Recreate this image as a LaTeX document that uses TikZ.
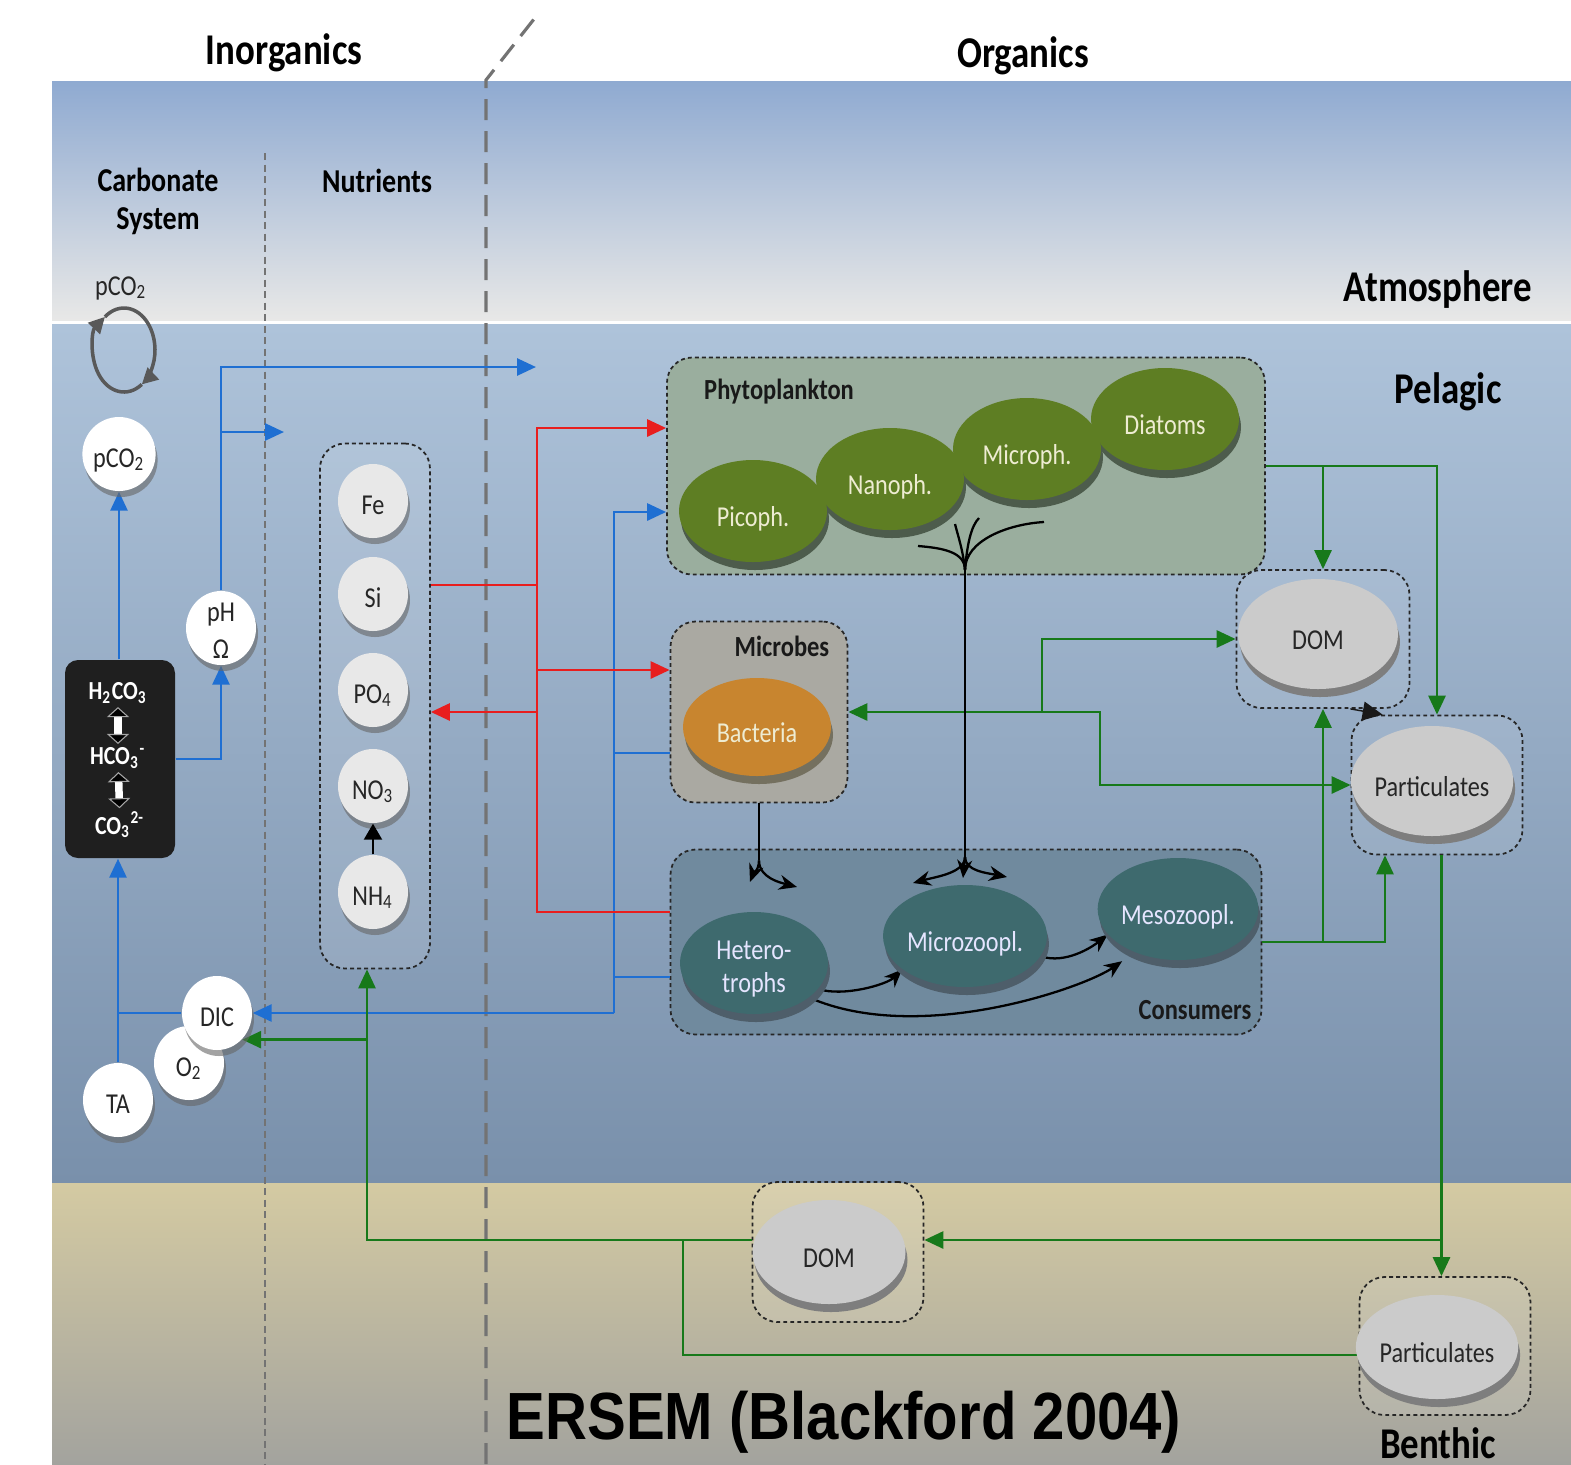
\documentclass[tikz,border=0pt]{standalone}
\usepackage{fontspec}
\setmainfont{Carlito}[FakeStretch=0.84]
\newfontfamily\titlefont{Liberation Sans}[FakeStretch=0.87]
\usetikzlibrary{arrows.meta,shapes.geometric,shadows}

\pgfdeclarelayer{back}
\pgfdeclarelayer{links}
\pgfsetlayers{back,links,main}

\definecolor{airtop}{HTML}{8FAAD1}
\definecolor{airbot}{HTML}{E8E8E7}
\definecolor{seatop}{HTML}{AEC3DA}
\definecolor{seabot}{HTML}{7990AB}
\definecolor{sedtop}{HTML}{D4CAA2}
\definecolor{sedbot}{HTML}{A3A39E}
\definecolor{flowblue}{HTML}{1F6FD2}
\definecolor{flowred}{HTML}{E81E1E}
\definecolor{flowgreen}{HTML}{17791A}
\definecolor{phygrp}{HTML}{9AAE9E}
\definecolor{phyfill}{HTML}{5E7E23}
\definecolor{physhd}{HTML}{4D5C4C}
\definecolor{phytxt}{HTML}{EEECD2}
\definecolor{micgrp}{HTML}{AAA9A2}
\definecolor{bacfill}{HTML}{C8852F}
\definecolor{bacshd}{HTML}{74705F}
\definecolor{congrp}{HTML}{708A9E}
\definecolor{confill}{HTML}{3E6A6E}
\definecolor{conshd}{HTML}{4E5E6A}
\definecolor{detfill}{HTML}{CBCBCB}
\definecolor{detshd}{HTML}{7E7E7E}

\newcommand{\nodesz}{\fontsize{8.2}{9.5}\selectfont}
\newcommand{\grpsz}{\fontsize{8.3}{10}\selectfont\bfseries}
\newcommand{\hdsz}{\fontsize{12.5}{15}\selectfont\bfseries}
\newcommand{\colsz}{\fontsize{9.5}{10.8}\selectfont\bfseries}

\tikzset{
  flow/.style={line width=0.8pt},
  flowtip/.style={-{Triangle[length=1.9mm,width=1.7mm]}},
  bluearr/.style={flow, flowblue, flowtip},
  blueln/.style={flow, flowblue},
  redarr/.style={flow, flowred, flowtip},
  redln/.style={flow, flowred},
  grnarr/.style={flow, flowgreen, flowtip},
  grnln/.style={flow, flowgreen},
  feed/.style={line width=0.65pt, -{Stealth[length=1.8mm,width=1.5mm]}},
  graze/.style={line width=0.65pt},
  group/.style={draw=black!85, line width=0.5pt, dash pattern=on 1.1pt off 0.9pt,
    rounded corners=2.5mm, inner sep=0pt},
  grplbl/.style={font=\grpsz, text=black!90},
  pool/.style={ellipse, minimum width=7mm, minimum height=7.4mm, inner sep=0pt,
    fill=white, text=black!85, font=\nodesz, text height=3.1mm, text depth=0.5mm,
    drop shadow={shadow xshift=0.2mm, shadow yshift=-0.6mm, fill=black!60, opacity=.6}},
  nut/.style={pool, fill=black!9},
  blob/.style 2 args={ellipse, fill=#1, minimum width=14.8mm, minimum height=10.2mm,
    inner sep=0pt, font=\nodesz, text height=3.6mm, text depth=0.5mm,
    drop shadow={shadow xshift=0.2mm, shadow yshift=-0.8mm, fill=#2, opacity=1}},
  carbtxt/.style={text=white, inner sep=0pt, font=\fontsize{7.4}{8}\selectfont\bfseries},
  equil/.style={line width=0.75mm, white,
    {Triangle[length=1mm,width=2.2mm,fill=black,color=black!35,line width=0.3pt]}-{Triangle[length=1mm,width=2.2mm,fill=black,color=black!35,line width=0.3pt]},
    shorten <=0.3mm, shorten >=0.3mm},
}

\begin{document}
\begin{tikzpicture}[x=0.1mm,y=-0.1mm]
\useasboundingbox (0,0) rectangle (1571,1464);

\begin{pgfonlayer}{back}
% air, water column, sediment
\fill[white] (0,0) rectangle (1571,1464);
\shade[top color=airtop, bottom color=airbot] (52,81) rectangle (1571,320);
\shade[top color=seatop, bottom color=seabot] (52,324) rectangle (1571,1183);
\shade[top color=sedtop, bottom color=sedbot] (52,1183) rectangle (1571,1464);
% column dividers
\draw[black!55, line width=0.5pt, dash pattern=on 0.7mm off 0.45mm] (265,153) -- (265,1464);
\draw[black!55, line width=0.9pt, dash pattern=on 2.1mm off 1.1mm] (486,1464) -- (486,80) -- (538,14);
% functional groups
\node[group, fill=white, fill opacity=.12, minimum width=11mm, minimum height=52.5mm] (nutbox) at (375,706) {};
\node[group, fill=phygrp, minimum width=59.8mm, minimum height=21.7mm] (phyto) at (966,466) {};
\node[group, fill=micgrp, minimum width=17.7mm, minimum height=18.1mm] (microbes) at (759,712) {};
\node[group, fill=congrp, minimum width=59.1mm, minimum height=18.5mm] (consumers) at (966,942) {};
\node[group, fill=white, fill opacity=.1, minimum width=17.3mm, minimum height=13.8mm] (domgrp) at (1323,639) {};
\node[group, fill=white, fill opacity=.1, minimum width=17.1mm, minimum height=13.9mm] (partgrp) at (1437,785) {};
\node[group, fill=white, fill opacity=.12, minimum width=17.1mm, minimum height=14mm] (bdomgrp) at (838,1252) {};
\node[group, fill=white, fill opacity=.12, minimum width=17.1mm, minimum height=13.8mm] (bpartgrp) at (1445,1346) {};
\end{pgfonlayer}

% headings
\node[font=\hdsz] (inorg) at (284,53) {Inorganics};
\node[font=\hdsz] (org) at (1023,56) {Organics};
\node[font=\hdsz] (atm) at (1438,290) {Atmosphere};
\node[font=\hdsz] (pel) at (1448,392) {Pelagic};
\node[font=\hdsz] (ben) at (1438,1443) {Benthic};
\node[font=\colsz, align=center] (carbhd) at (158,201) {Carbonate\\System};
\node[font=\colsz] (nuthd) at (377,181) {Nutrients};
\node[font=\titlefont\bfseries\fontsize{19}{22}\selectfont] (title) at (844,1422) {ERSEM (Blackford 2004)};

% air-sea exchange
\node[font=\nodesz, text=black!85] (pco2air) at (121,288) {pCO\textsubscript{2}};
\coordinate (cyc) at (124,350);
\draw[black!65, line width=1pt, -{Triangle[length=1.6mm,width=1.6mm]}]
  (cyc) ++(305:3.1mm and 4.2mm) arc[start angle=305, end angle=128, x radius=3.1mm, y radius=4.2mm];
\draw[black!65, line width=1pt, -{Triangle[length=1.6mm,width=1.6mm]}]
  (cyc) ++(128:3.1mm and 4.2mm) arc[start angle=128, end angle=-55, x radius=3.1mm, y radius=4.2mm];

% carbonate system
\node[pool] (pco2) at (119,454) {pCO\textsubscript{2}};
\node[pool] (phom) at (221,628) {};
\node[font=\nodesz, text=black!85, align=center, inner sep=0pt] (phomtxt) at ([yshift=-0.3mm]phom) {pH\\[1pt]Ω};
\node[pool] (otwo) at (189,1063) {O\textsubscript{2}};
\node[pool] (dic) at (217,1013) {DIC};
\node[pool] (ta) at (118,1100) {TA};
\node[rounded corners=1.3mm, fill=black!88, minimum width=11mm, minimum height=19.8mm, inner sep=0pt] (carb) at (120,759) {};
\node[carbtxt] (h2co3) at (118,693) {H\textsubscript{2}CO\textsubscript{3}};
\node[carbtxt] (hco3) at (118,758) {HCO\textsubscript{3}\textsuperscript{-}};
\node[carbtxt] (co3) at (120,825) {CO\textsubscript{3}\textsuperscript{2-}};
\draw[equil] (h2co3) -- (hco3);
\draw[equil] (hco3) -- (co3);

% nutrients
\node[nut] (fe) at (373,501) {Fe};
\node[nut] (si) at (373,594) {Si};
\node[nut] (po4) at (373,690) {PO\textsubscript{4}};
\node[nut] (no3) at (373,786) {NO\textsubscript{3}};
\node[nut] (nh4) at (373,892) {NH\textsubscript{4}};
\draw[line width=0.65pt, -{Triangle[length=1.6mm,width=1.8mm]}] (nh4) -- (no3);

% phytoplankton
\node[grplbl] (phylbl) at (779,392) {Phytoplankton};
\node[blob={phyfill}{physhd}, text=phytxt] (diat) at (1165,419) {Diatoms};
\node[blob={phyfill}{physhd}, text=phytxt] (microph) at (1027,449) {Microph.};
\node[blob={phyfill}{physhd}, text=phytxt] (nanoph) at (890,479) {Nanoph.};
\node[blob={phyfill}{physhd}, text=phytxt] (picoph) at (753,511) {Picoph.};

% microbes and consumers
\node[grplbl] (miclbl) at (782,646) {Microbes};
\node[blob={bacfill}{bacshd}, text=phytxt, minimum height=9.8mm] (bact) at (757,727) {Bacteria};
\node[grplbl] (conlbl) at (1195,1010) {Consumers};
\node[blob={confill}{conshd}, text=white!90!blue, align=center, text height=6.4mm] (het) at (754,963) {Hetero-\\trophs};
\node[blob={confill}{conshd}, text=white!90!blue] (micro) at (965,936) {Microzoopl.};
\node[blob={confill}{conshd}, text=white!90!blue] (meso) at (1178,909) {Mesozoopl.};

% detritus
\node[blob={detfill}{detshd}, text=black!85, minimum width=16mm, minimum height=11mm] (dom) at (1318,634) {DOM};
\node[blob={detfill}{detshd}, text=black!85, minimum width=16mm, minimum height=11mm] (part) at (1432,781) {Particulates};
\node[blob={detfill}{detshd}, text=black!85, minimum width=15.3mm, minimum height=10.4mm] (bdom) at (829,1252) {DOM};
\node[blob={detfill}{detshd}, text=black!85, minimum width=15.3mm, minimum height=10.4mm] (bpart) at (1437,1347) {Particulates};

\begin{pgfonlayer}{links}
% carbon
\draw[bluearr] (carb.north -| pco2) -- (pco2.south);
\draw[bluearr] (ta.north) -- (ta.north |- carb.south);
\draw[blueln] (ta |- dic) -- (dic.west);
\draw[bluearr] (carb.east) -| (phom.south);
\coordinate (airout) at (536,367);
\coordinate (nutin) at (284,432);
\draw[bluearr] (phom.north) |- (airout);
\draw[bluearr] (phom.north |- nutin) -- (nutin);
\coordinate (bbus) at (614,1013);
\draw[bluearr] (bbus) -- (dic.east);
\draw[bluearr] (bbus) |- ([yshift=-4.6mm]phyto.west);
\draw[blueln] ([yshift=-4.1mm]microbes.west) -| (bbus);
\draw[blueln] ([yshift=-3.5mm]consumers.west) -| (bbus);

% nutrients
\coordinate (rbus) at (537,585);
\coordinate (pin) at ([yshift=-0.6mm]nutbox.east);
\draw[redln] (nutbox.east |- rbus) -- (rbus);
\draw[redarr] (rbus) |- ([yshift=3.8mm]phyto.west);
\draw[redarr] (rbus) |- ([yshift=4.2mm]microbes.west);
\draw[redarr] (rbus |- pin) -- (pin);
\draw[redln] ([yshift=3mm]consumers.west) -| (rbus);

% detritus
\draw[grnarr] (phyto.east) -| (partgrp.north);
\draw[grnarr] (phyto.east -| domgrp.north) -- (domgrp.north);
\coordinate (gj) at (1042,712);
\coordinate (gk) at (1100,712);
\draw[grnarr] (gj) -- (gj -| microbes.east);
\draw[grnarr] (gj) |- (domgrp.west);
\draw[grnarr] (gj) -- (gk) |- (partgrp.west);
\draw[grnarr] (consumers.east) -| ([xshift=-5.2mm]partgrp.south);
\draw[grnarr] (consumers.east -| domgrp.south) -- (domgrp.south);
\draw[-{Triangle[length=2mm,width=1.9mm]}, black!90] ([xshift=-6mm]domgrp.south east) -- ([xshift=3.2mm]partgrp.north west);
\coordinate (pout) at ([xshift=0.45mm]partgrp.south);
\coordinate (bdin) at ([yshift=1.2mm]bdomgrp.east);
\coordinate (nin) at ([xshift=-0.8mm]nutbox.south);
\coordinate (bjoin) at (683,1240);
\draw[grnarr] (pout) -- (pout |- bpartgrp.north);
\draw[grnarr] (pout |- bdin) -- (bdin);
\draw[grnarr] (bdomgrp.west |- bdin) -| (nin);
\draw[grnarr] (nin |- dic.south east) -- (dic.south east);
\draw[grnln] ([yshift=-0.9mm]bpartgrp.west) -| (bjoin);

% grazing
\coordinate (gtop) at (965,570);
\coordinate (gbot) at (965,857);
\coordinate (gl) at (918,546);
\coordinate (gm) at (955,524);
\coordinate (gn) at (979,518);
\coordinate (gr) at (1044,522);
\draw[graze] (gtop) .. controls +(0,-18) and +(25,2) .. (gl);
\draw[graze] (gtop) .. controls +(-2,-20) and +(3,12) .. (gm);
\draw[graze] (gtop) .. controls +(2,-25) and +(-8,8) .. (gn);
\draw[graze] (gtop) .. controls +(0,-30) and +(-35,2) .. (gr);
\draw[graze] (gtop) -- (gbot);
\coordinate (zl) at (913,883);
\coordinate (zm) at (963,878);
\coordinate (zr) at (1007,877);
\draw[feed] (gbot) .. controls +(0,16) and +(22,-6) .. (zl);
\draw[feed] (gbot) -- (zm);
\draw[feed] (gbot) .. controls +(0,14) and +(-20,-4) .. (zr);
\draw[graze] (microbes.south) -- ++(0,57) coordinate (bfork);
\coordinate (hl) at (750,882);
\coordinate (hr) at (797,887);
\draw[feed] (bfork) .. controls +(0,10) and +(3,-8) .. (hl);
\draw[feed] (bfork) .. controls +(0,18) and +(-15,-4) .. (hr);
\draw[feed] (het.-22) .. controls +(25,8) and +(-15,15) .. (micro.-152);
\draw[feed, shorten >=1.5mm] (het.-32) .. controls +(110,48) and +(-50,35) .. (meso.-135);
\draw[feed] (micro.-15) .. controls +(25,8) and +(-15,12) .. (meso.-160);
\end{pgfonlayer}
\end{tikzpicture}
\end{document}
